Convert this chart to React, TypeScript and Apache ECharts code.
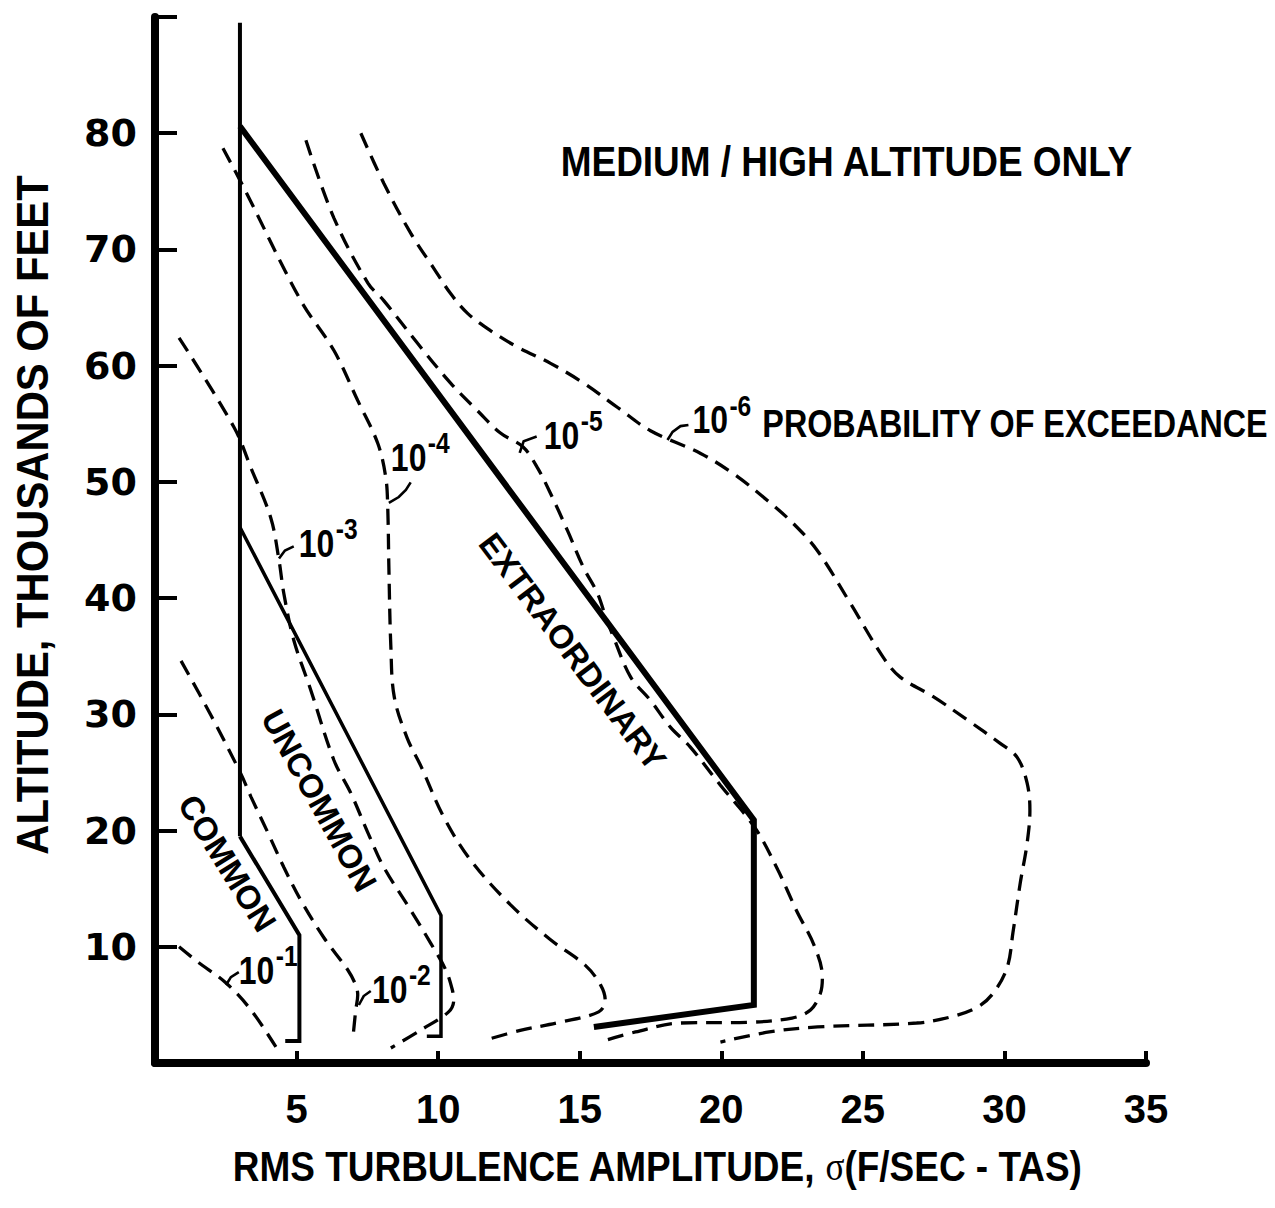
import React, { useEffect, useRef } from 'react';
import * as echarts from 'echarts';

// ---------- tick labels ----------
const X_TICK_LABELS = [5, 10, 15, 20, 25, 30, 35];
const Y_TICK_LABELS = [10, 20, 30, 40, 50, 60, 70, 80];

// ---------- solid region boundaries (sigma, altitude kft) ----------
const boundaryWall = [[3, 89.5], [3, 19.5]];
const extraordinaryBoundary = [[3, 80.6], [21.15, 20.9], [21.15, 5.0], [15.5, 3.1]];
const uncommonBoundary = [[3, 46.1], [10.1, 12.7], [10.1, 2.3], [9.6, 2.3]];
const commonBoundary = [[3, 19.5], [5.1, 11.0], [5.1, 1.9], [4.6, 1.9]];

// ---------- probability-of-exceedance contours ----------
const contour1 = [[0.85, 10.0], [1.52, 8.68], [2.51, 6.88], [3.39, 4.56], [4.27, 1.38]];
const contour2 = [
  [0.92, 34.6], [1.98, 29.9], [3.03, 24.9], [3.39, 22.9], [3.99, 19.8], [4.55, 16.85],
  [5.15, 14.0], [5.96, 10.8], [6.81, 8.0], [7.09, 6.7], [7.16, 5.85], [7.09, 4.56], [6.99, 2.15],
];
const contour3 = [
  [0.85, 62.4], [2.79, 54.7], [3.39, 51.2], [4.09, 46.9], [4.38, 43.25], [4.55, 40.4],
  [4.9, 36.4], [5.5, 32.1], [6.32, 26.05], [6.92, 23.2], [7.52, 19.8], [8.08, 16.85],
  [9.03, 13.15], [9.74, 10.3], [10.27, 8.0], [10.5, 6.3], [10.55, 5.4], [10.37, 4.4],
  [9.39, 2.84], [8.33, 1.29],
];
const contour4 = [
  [2.4, 78.7], [3.14, 75.3], [5.15, 65.6], [6.32, 61.3], [7.16, 57.0], [7.87, 53.3],
  [8.15, 50.4], [8.22, 47.8], [8.26, 42.65], [8.33, 35.8], [8.45, 31.5], [8.9, 28.0],
  [9.4, 25.5], [10.2, 21.15], [11.15, 17.45], [12.56, 13.6], [13.97, 10.6], [15.2, 8.4],
  [15.74, 6.7], [15.9, 5.4], [15.67, 4.4], [14.3, 3.5], [12.9, 2.8], [11.68, 1.98],
];
const contour5 = [
  [5.33, 79.4], [6.32, 72.7], [7.52, 67.1], [8.08, 65.6], [9.28, 61.9], [10.44, 58.5],
  [11.4, 56.1], [12.2, 54.2], [13.0, 53.0], [13.5, 51.25], [13.97, 49.0], [14.57, 45.8],
  [15.14, 42.6], [15.63, 40.4], [15.9, 38.5], [16.2, 36.6], [16.8, 33.2], [17.5, 31.2],
  [18.2, 28.9], [18.9, 27.2], [19.97, 23.9], [21.2, 20.2], [22.0, 16.6], [22.65, 13.15],
  [23.3, 10.0], [23.57, 7.4], [23.5, 6.0], [23.15, 4.56], [22.5, 3.87], [20.9, 3.5],
  [18.56, 3.44], [16.97, 2.67], [15.7, 1.8],
];
const contour6 = [
  [7.27, 80.0], [8.08, 75.7], [9.03, 71.4], [9.84, 68.4], [10.44, 66.2], [11.04, 64.5],
  [11.86, 63.0], [12.8, 61.6], [13.97, 60.2], [15.14, 58.5], [16.34, 56.4], [17.5, 54.4],
  [19.27, 52.45], [20.43, 50.7], [21.63, 48.4], [22.55, 46.4], [23.39, 44.1], [24.56, 39.55],
  [25.72, 34.9], [26.32, 33.2], [27.5, 31.5], [28.7, 29.5], [29.85, 27.5], [30.45, 26.3],
  [30.8, 24.1], [30.9, 21.75], [30.8, 18.9], [30.56, 15.5], [30.3, 11.2], [30.1, 8.25],
  [29.6, 6.0], [29.04, 4.8], [28.1, 3.96], [26.9, 3.44], [23.4, 3.1], [21.7, 2.67], [19.97, 1.8],
];

// ---------- leader ticks from contour to its label ----------
const leader1 = [[2.51, 6.71], [2.68, 7.39], [2.96, 7.82]];
const leader2 = [[7.2, 4.99], [7.37, 5.76], [7.62, 6.19]];
const leader3 = [[4.38, 43.4], [4.59, 44.1], [4.9, 44.45]];
const leader4 = [[8.26, 48.2], [8.61, 48.7], [8.86, 49.3], [9.03, 49.96]];
const leader5 = [[12.88, 52.5], [13.02, 53.5], [13.48, 53.9]];
const leader6 = [[18.1, 53.6], [18.28, 54.3], [18.56, 54.8], [18.84, 54.9]];

// ---------- annotation texts ----------
const exponentLabels = [
  { exp: '-1', at: [2.96, 7.91] },
  { exp: '-2', at: [7.66, 6.28] },
  { exp: '-3', at: [5.08, 44.7] },
  { exp: '-4', at: [8.33, 52.1] },
  { exp: '-5', at: [13.73, 54.0] },
  { exp: '-6', at: [18.98, 55.3] },
];
const regionLabels = [
  { text: 'COMMON', at: [2.55, 17.2], angle: -58 },
  { text: 'UNCOMMON', at: [5.8, 22.6], angle: -61 },
  { text: 'EXTRAORDINARY', at: [14.75, 35.4], angle: -53 },
];
const TITLE_TEXT = 'MEDIUM / HIGH ALTITUDE ONLY';
const TITLE_AT = [14.33, 77.56];
const PROB_TEXT = 'PROBABILITY OF EXCEEDANCE';
const PROB_AT = [21.45, 55.0];
const X_NAME_MAIN = 'RMS TURBULENCE AMPLITUDE, ';
const X_NAME_SIGMA = 'σ';
const X_NAME_TAIL = '(F/SEC - TAS)';
const Y_NAME = 'ALTITUDE, THOUSANDS OF FEET';

const SANS = "'Liberation Sans', Arial, Helvetica, sans-serif";

export default function App() {
  const ref = useRef<HTMLDivElement>(null);

  useEffect(() => {
    if (!ref.current) return;
    const chart = echarts.init(ref.current, null, { renderer: 'svg' });

    const dashed = (data: number[][]) => ({
      type: 'line',
      data,
      symbol: 'none',
      smooth: 0.35,
      silent: true,
      z: 2,
      lineStyle: { color: '#000', width: 3.3, type: [16, 9], cap: 'butt' },
    });
    const solid = (data: number[][], width: number) => ({
      type: 'line',
      data,
      symbol: 'none',
      silent: true,
      z: 3,
      lineStyle: { color: '#000', width, type: 'solid', join: 'miter' },
    });

    chart.setOption({
      animation: false,
      backgroundColor: '#fff',
      grid: { left: 155, right: 129, top: 17, bottom: 145, containLabel: false },
      xAxis: {
        type: 'value',
        min: 0,
        max: 35,
        interval: 5,
        axisLine: { show: true, onZero: false, lineStyle: { color: '#000', width: 8 } },
        axisTick: { show: true, inside: true, length: 12, lineStyle: { color: '#000', width: 4 } },
        axisLabel: {
          color: '#000',
          fontSize: 40,
          fontWeight: 'bold',
          fontFamily: SANS,
          margin: 26,
          formatter: (v: number) => (X_TICK_LABELS.includes(v) ? String(v) : ''),
        },
        splitLine: { show: false },
      },
      yAxis: {
        type: 'value',
        min: 0,
        max: 90,
        interval: 10,
        axisLine: { show: true, onZero: false, lineStyle: { color: '#000', width: 8 } },
        axisTick: { show: true, inside: true, length: 22, lineStyle: { color: '#000', width: 4 } },
        axisLabel: {
          color: '#000',
          fontSize: 38,
          fontWeight: 'bold',
          fontFamily: "'DejaVu Sans', sans-serif",
          margin: 18,
          formatter: (v: number) => (Y_TICK_LABELS.includes(v) ? String(v) : ''),
        },
        splitLine: { show: false },
      },
      series: [
        dashed(contour1),
        dashed(contour2),
        dashed(contour3),
        dashed(contour4),
        dashed(contour5),
        dashed(contour6),
        solid(boundaryWall, 4),
        solid(extraordinaryBoundary, 6),
        solid(uncommonBoundary, 3.5),
        solid(commonBoundary, 4),
        solid(leader1, 2.6),
        solid(leader2, 2.6),
        solid(leader3, 2.6),
        solid(leader4, 2.6),
        solid(leader5, 2.6),
        solid(leader6, 2.6),
      ],
    });

    const px = (pt: number[]) => chart.convertToPixel({ gridIndex: 0 }, pt) as number[];
    const boldText = (text: string, size: number) => ({
      text,
      fontSize: size,
      fontWeight: 'bold',
      fontFamily: SANS,
      fill: '#000',
      align: 'left',
      verticalAlign: 'middle',
    });

    const graphics: any[] = [];

    exponentLabels.forEach((l) => {
      const [x, y] = px(l.at);
      graphics.push({
        type: 'group',
        x,
        y,
        silent: true,
        children: [
          { type: 'text', x: 0, y: 0, scaleX: 0.82, style: boldText('10', 39) },
          { type: 'text', x: 37, y: -15, scaleX: 0.82, style: boldText(l.exp, 30) },
        ],
      });
    });

    regionLabels.forEach((l) => {
      const [x, y] = px(l.at);
      graphics.push({
        type: 'text',
        x,
        y,
        rotation: (l.angle * Math.PI) / 180,
        silent: true,
        style: {
          text: l.text,
          fontSize: 33,
          fontWeight: 'bold',
          fontFamily: SANS,
          fill: '#000',
          align: 'center',
          verticalAlign: 'middle',
        },
      });
    });

    const [tx, ty] = px(TITLE_AT);
    graphics.push({ type: 'text', x: tx, y: ty, scaleX: 0.88, silent: true, style: boldText(TITLE_TEXT, 42) });
    const [ppx, ppy] = px(PROB_AT);
    graphics.push({ type: 'text', x: ppx, y: ppy, scaleX: 0.85, silent: true, style: boldText(PROB_TEXT, 38) });

    // axis names
    graphics.push({
      type: 'text',
      x: 657,
      y: 1166,
      scaleX: 0.88,
      silent: true,
      style: {
        text: `{a|${X_NAME_MAIN}}{s|${X_NAME_SIGMA}}{a|${X_NAME_TAIL}}`,
        align: 'center',
        verticalAlign: 'middle',
        fill: '#000',
        rich: {
          a: { fontSize: 42, fontWeight: 'bold', fontFamily: SANS, fill: '#000' },
          s: { fontSize: 40, fontWeight: 'normal', fontFamily: "'Liberation Serif', 'Times New Roman', serif", fill: '#000' },
        },
      },
    });
    graphics.push({
      type: 'text',
      x: 33,
      y: 515,
      rotation: Math.PI / 2,
      scaleX: 0.95,
      silent: true,
      style: {
        text: Y_NAME,
        fontSize: 44,
        fontWeight: 'bold',
        fontFamily: SANS,
        fill: '#000',
        align: 'center',
        verticalAlign: 'middle',
      },
    });

    chart.setOption({ graphic: graphics });

    return () => chart.dispose();
  }, []);

  return (
    <div
      ref={ref}
      style={{ position: 'fixed', left: 0, top: 0, width: 1275, height: 1208, background: '#fff' }}
    />
  );
}
